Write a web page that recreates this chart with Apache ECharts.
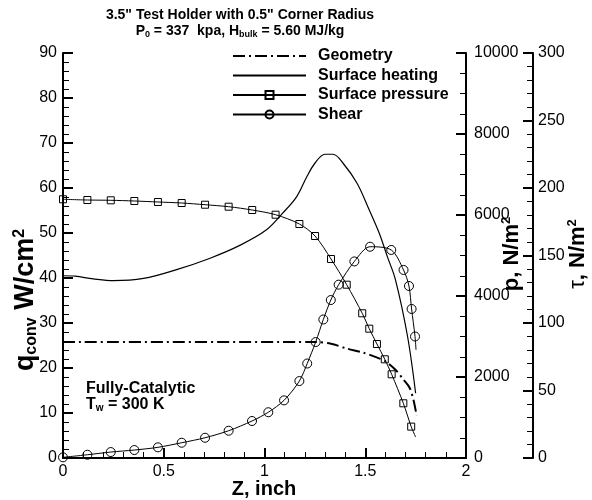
<!DOCTYPE html>
<html><head><meta charset="utf-8">
<script src="https://cdn.jsdelivr.net/npm/echarts@6/dist/echarts.min.js"></script>
<style>html,body{margin:0;padding:0;background:#fff}#c{width:592px;height:500px}</style>
</head><body><div id="c"></div>
<script>
// ---- data ----
const xTickValues = [0, 0.5, 1, 1.5, 2];
const seriesNames = ['Geometry', 'Surface heating', 'Surface pressure', 'Shear'];

const geomZ = [0, 1.25, 1.33, 1.41, 1.49, 1.56, 1.60, 1.65, 1.69, 1.72, 1.74, 1.755];
const geomQ = [25.8, 25.8, 25.4, 24.3, 23.4, 22.3, 21.5, 19.6, 17.4, 15.6, 12.8, 9.4];

const heatZ = [0, 0.06, 0.15, 0.25, 0.40, 0.56, 0.73, 0.88, 1.01, 1.09, 1.16, 1.21, 1.25, 1.30, 1.34, 1.39, 1.46, 1.52, 1.57, 1.61, 1.65, 1.71, 1.75];
const heatQ = [40.5, 40.4, 39.8, 39.4, 39.9, 41.8, 44.4, 47.3, 50.7, 54.4, 58.1, 62.5, 65.5, 67.5, 67.5, 65.5, 61.0, 55.1, 49.9, 44.7, 39.6, 27.0, 14.4];

const presZ = [0, 0.121, 0.237, 0.354, 0.471, 0.589, 0.705, 0.822, 0.939, 1.055, 1.173, 1.251, 1.330, 1.408, 1.485, 1.520, 1.558, 1.597, 1.631, 1.689, 1.728, 1.750];
const presP = [6388, 6370, 6363, 6346, 6321, 6296, 6254, 6205, 6123, 6007, 5778, 5481, 4914, 4279, 3573, 3193, 2815, 2437, 2067, 1351, 775, 520];

const shearZ = [0, 0.121, 0.237, 0.354, 0.471, 0.589, 0.705, 0.822, 0.938, 1.019, 1.097, 1.173, 1.212, 1.254, 1.292, 1.329, 1.368, 1.446, 1.524, 1.629, 1.690, 1.717, 1.730, 1.747, 1.752];
const shearTau = [0.5, 2.4, 4.4, 5.9, 7.9, 11.3, 15.0, 20.2, 27.4, 33.9, 42.7, 57.0, 70.0, 85.9, 102.6, 117.0, 128.4, 145.6, 156.5, 154.1, 139.3, 127.4, 110.4, 90.0, 80.0];

// ---- chart ----
const FONT = '"Liberation Sans", Arial, Helvetica, sans-serif';
const pairs = (xs, ys) => xs.map((x, i) => [x, ys[i]]);
const pairsLastBare = (xs, ys) => xs.map((x, i) => i < xs.length - 1 ? [x, ys[i]] : { value: [x, ys[i]], symbol: 'none' });

function yAxisBase(minorSplit, margin, extra) {
  return Object.assign({
    type: 'value',
    splitLine: { show: false },
    axisLine: { show: true, onZero: false, lineStyle: { color: '#000', width: 2 } },
    axisTick: { show: true, inside: true, length: 10, lineStyle: { color: '#000', width: 2 } },
    minorTick: { show: true, splitNumber: minorSplit, length: 6, lineStyle: { color: '#000', width: 1 } },
    axisLabel: { color: '#000', fontFamily: FONT, fontSize: 16, margin: margin, formatter: v => String(v) }
  }, extra);
}

const chart = echarts.init(document.getElementById('c'), null, { renderer: 'canvas' });
chart.setOption({
  animation: false,
  backgroundColor: '#fff',
  grid: { left: 63, right: 126, top: 53, bottom: 42 },
  legend: {
    data: seriesNames,
    orient: 'vertical',
    left: 232, top: 48, padding: 0,
    itemWidth: 73, itemHeight: 10, itemGap: 3.5,
    selectedMode: false,
    textStyle: { fontFamily: FONT, fontSize: 16, fontWeight: 'bold', color: '#000', padding: [0, 0, 0, 7], lineHeight: 16 }
  },
  xAxis: {
    type: 'value', min: 0, max: 2, interval: 0.5,
    splitLine: { show: false },
    axisLine: { show: true, onZero: false, lineStyle: { color: '#000', width: 2 } },
    axisTick: { show: true, inside: true, length: 10, lineStyle: { color: '#000', width: 2 } },
    minorTick: { show: true, splitNumber: 5, length: 6, lineStyle: { color: '#000', width: 1 } },
    axisLabel: { color: '#000', fontFamily: FONT, fontSize: 16, margin: 6,
      formatter: v => xTickValues.indexOf(v) >= 0 ? String(v) : '' }
  },
  yAxis: [
    yAxisBase(5, 6, { position: 'left', min: 0, max: 90, interval: 10 }),
    yAxisBase(4, 8, { position: 'right', min: 0, max: 10000, interval: 2000 }),
    yAxisBase(5, 5, { position: 'right', offset: 67, min: 0, max: 300, interval: 50 })
  ],
  series: [
    { name: seriesNames[0], type: 'line', yAxisIndex: 0, data: pairs(geomZ, geomQ),
      symbol: 'none', smooth: 0.3,
      lineStyle: { color: '#000', width: 2, type: [12, 4, 2, 4] },
      itemStyle: { color: 'transparent', borderWidth: 0 } },
    { name: seriesNames[1], type: 'line', yAxisIndex: 0, data: pairs(heatZ, heatQ),
      symbol: 'none', smooth: 0.35,
      lineStyle: { color: '#000', width: 1.2 },
      itemStyle: { color: 'transparent', borderWidth: 0 } },
    { name: seriesNames[2], type: 'line', yAxisIndex: 1, data: pairsLastBare(presZ, presP),
      symbol: 'rect', symbolSize: 7, smooth: 0.3,
      lineStyle: { color: '#000', width: 1 },
      itemStyle: { color: 'transparent', borderColor: '#000', borderWidth: 1 } },
    { name: seriesNames[3], type: 'line', yAxisIndex: 2, data: pairsLastBare(shearZ, shearTau),
      symbol: 'circle', symbolSize: 9, smooth: 0.3,
      lineStyle: { color: '#000', width: 1 },
      itemStyle: { color: 'transparent', borderColor: '#000', borderWidth: 1 } }
  ],
  graphic: [
    { type: 'text', x: 240, y: 23, style: {
        text: '{t|3.5" Test Holder with 0.5" Corner Radius}\n{t|P}{s|0}{t| = 337  kpa, H}{s|bulk}{t| = 5.60 MJ/kg}',
        align: 'center', verticalAlign: 'middle',
        rich: {
          t: { fontFamily: FONT, fontSize: 14, fontWeight: 'bold', fill: '#000', lineHeight: 16 },
          s: { fontFamily: FONT, fontSize: 9, fontWeight: 'bold', fill: '#000', lineHeight: 8, verticalAlign: 'bottom' }
        } } },
    { type: 'text', x: 86, y: 397, style: {
        text: '{t|Fully-Catalytic}\n{t|T}{s|w}{t| = 300 K}',
        align: 'left', verticalAlign: 'middle',
        rich: {
          t: { fontFamily: FONT, fontSize: 16, fontWeight: 'bold', fill: '#000', lineHeight: 16 },
          s: { fontFamily: FONT, fontSize: 10, fontWeight: 'bold', fill: '#000', lineHeight: 8, verticalAlign: 'bottom' }
        } } },
    { type: 'text', x: 264, y: 489, style: {
        text: 'Z, inch', align: 'center', verticalAlign: 'middle',
        font: 'bold 20px ' + FONT, fill: '#000' } },
    { type: 'text', x: 26, y: 300, rotation: Math.PI / 2, style: {
        text: '{t|q}{s|conv}{t| W/cm}{p|2}', align: 'center', verticalAlign: 'middle',
        rich: {
          t: { fontFamily: FONT, fontSize: 27, fontWeight: 'bold', fill: '#000', lineHeight: 28 },
          s: { fontFamily: FONT, fontSize: 16, fontWeight: 'bold', fill: '#000', lineHeight: 13, verticalAlign: 'bottom' },
          p: { fontFamily: FONT, fontSize: 16, fontWeight: 'bold', fill: '#000', lineHeight: 13, verticalAlign: 'top' }
        } } },
    { type: 'text', x: 512, y: 254, rotation: Math.PI / 2, style: {
        text: '{t|p, N/m}{p|2}', align: 'center', verticalAlign: 'middle',
        rich: {
          t: { fontFamily: FONT, fontSize: 22, fontWeight: 'bold', fill: '#000', lineHeight: 24 },
          p: { fontFamily: FONT, fontSize: 13, fontWeight: 'bold', fill: '#000', lineHeight: 10, verticalAlign: 'top' }
        } } },
    { type: 'text', x: 578, y: 254, rotation: Math.PI / 2, style: {
        text: '{g|τ}{t|, N/m}{p|2}', align: 'center', verticalAlign: 'middle',
        rich: {
          g: { fontFamily: FONT, fontSize: 22, fill: '#000', lineHeight: 24 },
          t: { fontFamily: FONT, fontSize: 22, fontWeight: 'bold', fill: '#000', lineHeight: 24 },
          p: { fontFamily: FONT, fontSize: 13, fontWeight: 'bold', fill: '#000', lineHeight: 10, verticalAlign: 'top' }
        } } }
  ]
});
</script>
</body></html>
